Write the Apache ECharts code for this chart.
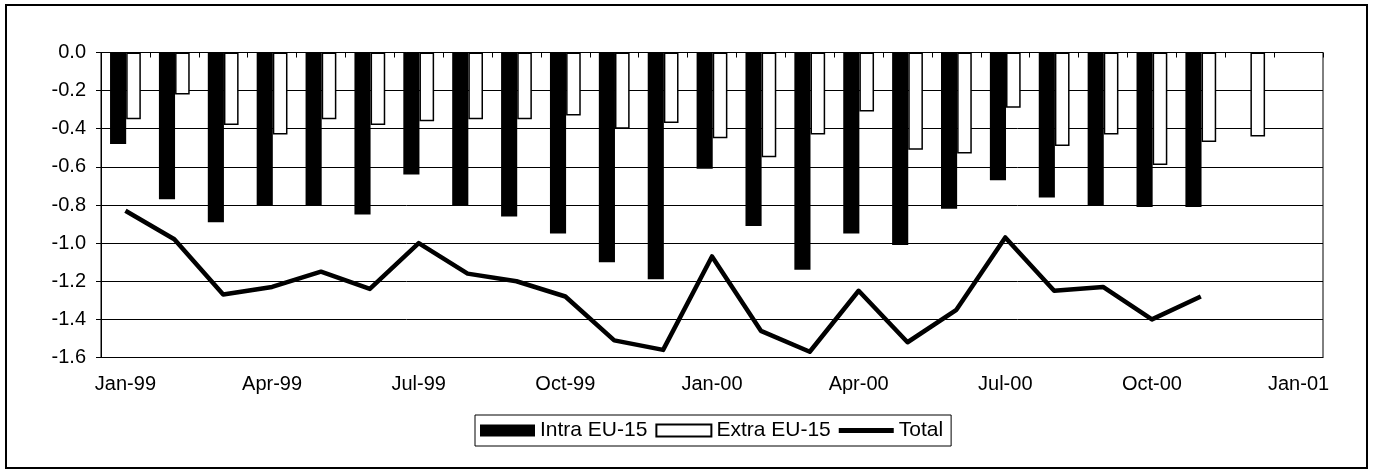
<!DOCTYPE html>
<html>
<head>
<meta charset="utf-8">
<script src="https://cdn.jsdelivr.net/npm/echarts@6/dist/echarts.min.js"></script>
<style>
html,body{margin:0;padding:0;background:#fff;}
#chart{width:1375px;height:473px;}
</style>
</head>
<body>
<div id="chart"></div>
<script>
// Months Jan-99 .. Jan-01
const months = ['Jan-99','Feb-99','Mar-99','Apr-99','May-99','Jun-99','Jul-99','Aug-99','Sep-99','Oct-99','Nov-99','Dec-99',
                'Jan-00','Feb-00','Mar-00','Apr-00','May-00','Jun-00','Jul-00','Aug-00','Sep-00','Oct-00','Nov-00','Dec-00','Jan-01'];
const intraEU15 = [-0.48,-0.77,-0.89,-0.80,-0.80,-0.85,-0.64,-0.80,-0.86,-0.95,-1.10,-1.19,
                   -0.61,-0.91,-1.14,-0.95,-1.01,-0.82,-0.67,-0.76,-0.80,-0.81,-0.81,null,null];
const extraEU15 = [-0.35,-0.22,-0.38,-0.43,-0.35,-0.38,-0.36,-0.35,-0.35,-0.33,-0.40,-0.37,
                   -0.45,-0.55,-0.43,-0.31,-0.51,-0.53,-0.29,-0.49,-0.43,-0.59,-0.47,-0.44,null];
const total     = [-0.83,-0.98,-1.27,-1.23,-1.15,-1.24,-1.00,-1.16,-1.20,-1.28,-1.51,-1.56,
                   -1.07,-1.46,-1.57,-1.25,-1.52,-1.35,-0.97,-1.25,-1.23,-1.40,-1.28,null,null];
const seriesNames = ['Intra EU-15','Extra EU-15','Total'];

const FONT = 'Liberation Sans, Arial, sans-serif';
const chart = echarts.init(document.getElementById('chart'), null, {renderer:'canvas'});
chart.setOption({
  animation:false,
  backgroundColor:'#fff',
  textStyle:{fontFamily:FONT,color:'#000'},
  graphic:[{
    type:'rect', shape:{x:6,y:5,width:1361,height:463},
    style:{fill:'none',stroke:'#000',lineWidth:2}, silent:true, z:-1
  }],
  grid:{left:101,right:52,top:52.5,bottom:115.5,show:true,borderColor:'#000',borderWidth:1,containLabel:false},
  legend:{
    left:475, top:415, orient:'horizontal',
    itemWidth:55, itemHeight:12, itemGap:8,
    padding:[5,8,5,5],
    symbolKeepAspect:true,
    borderColor:'#000', borderWidth:1, backgroundColor:'#fff',
    textStyle:{fontFamily:FONT,fontSize:21,color:'#000'},
    data:[
      {name:seriesNames[0], icon:'rect'},
      {name:seriesNames[1], icon:'rect'},
      {name:seriesNames[2], icon:'path://M0,0 H55 V5 H0 Z', itemStyle:{color:'#000',borderWidth:0}}
    ]
  },
  xAxis:[{
    type:'category', data:months, position:'bottom',
    axisLine:{show:true,onZero:false,lineStyle:{color:'#000',width:1}},
    axisTick:{show:false},
    axisLabel:{interval:2,fontFamily:FONT,fontSize:20,color:'#000',margin:17},
    splitLine:{show:false}
  },{
    type:'category', data:months, position:'top',
    axisLine:{show:false},
    axisTick:{show:true,inside:true,length:5,interval:0,lineStyle:{color:'#000',width:1}},
    axisLabel:{show:false},
    splitLine:{show:false}
  }],
  yAxis:{
    type:'value', min:-1.6, max:0, interval:0.2,
    axisLine:{show:true,lineStyle:{color:'#000',width:1}},
    axisTick:{show:true,length:5,lineStyle:{color:'#000'}},
    axisLabel:{fontFamily:FONT,fontSize:20,color:'#000',margin:15,
      formatter:function(v){return (Math.abs(v)<1e-9?0:v).toFixed(1);}},
    splitLine:{show:true,lineStyle:{color:'#000',width:1}}
  },
  series:[{
    name:seriesNames[0], type:'bar', xAxisIndex:0, data:intraEU15,
    barWidth:'33%', barGap:'0%',
    itemStyle:{color:'#000',borderColor:'#000',borderWidth:0}
  },{
    name:seriesNames[1], type:'bar', xAxisIndex:0, data:extraEU15,
    barWidth:'30%', barGap:'0%',
    itemStyle:{color:'#fff',borderColor:'#000',borderWidth:1.5}
  },{
    name:seriesNames[2], type:'line', xAxisIndex:0, data:total,
    symbol:'none', showSymbol:false,
    lineStyle:{color:'#000',width:4.5,join:'round'}, itemStyle:{color:'#000'}, z:5
  }]
});
</script>
</body>
</html>
